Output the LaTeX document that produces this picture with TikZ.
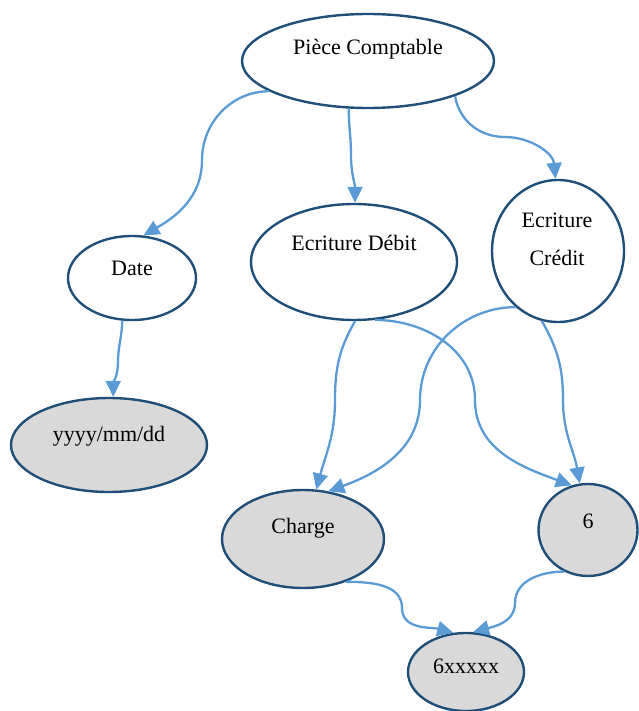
\documentclass[tikz,border=0pt]{standalone}
\usepackage{fontspec}
\setmainfont{Liberation Serif}
\usetikzlibrary{shapes.geometric,arrows.meta}
\definecolor{edge}{HTML}{1F4E79}
\definecolor{conn}{HTML}{5B9BD5}
\definecolor{greyfill}{HTML}{D9D9D9}
\tikzset{
  ell/.style={ellipse,draw=edge,line width=2.4pt,inner sep=0pt},
  plain/.style={ell,fill=white},
  grey/.style={ell,fill=greyfill},
  lbl/.style={anchor=base,inner sep=0pt,font=\fontsize{22}{26}\selectfont},
  conn/.style={draw=conn,line width=2.3pt,-{Triangle[length=16pt,width=15pt]}},
}
\begin{document}
\begin{tikzpicture}[x=1pt,y=-1pt]
\useasboundingbox (0,0) rectangle (638,711);
% ellipses
\node[plain,minimum width=252pt,minimum height=94pt] (pc) at (368,61) {};
\node[plain,minimum width=128pt,minimum height=84pt] (date) at (132,278) {};
\node[plain,minimum width=206pt,minimum height=116pt] (ed) at (354,262) {};
\node[plain,minimum width=132pt,minimum height=142pt] (ec) at (558,251) {};
\node[grey,minimum width=196pt,minimum height=94pt] (ymd) at (109,445) {};
\node[grey,minimum width=162pt,minimum height=98pt] (charge) at (303,539) {};
\node[grey,minimum width=99pt,minimum height=92pt] (six) at (588,530) {};
\node[grey,minimum width=116pt,minimum height=78pt] (x6) at (466,672) {};
% texts
\node[lbl] (pct) at (368,55) {Pièce Comptable};
\node[lbl] (datet) at (132,275) {Date};
\node[lbl] (edt) at (354,250) {Ecriture Débit};
\node[lbl] (ect1) at (557,228) {Ecriture};
\node[lbl] (ect2) at (557,265) {Crédit};
\node[lbl] (ymdt) at (109,441) {yyyy/mm/dd};
\node[lbl] (charget) at (303,533) {Charge};
\node[lbl] (sixt) at (588,528) {6};
\node[lbl] (x6t) at (466,673) {6xxxxx};
% connectors
\draw[conn] (pc.197) to[out=180,in=90] (202,160) to[out=-90,in=30] (date.75);
\draw[conn] (pc.-112) to[out=-90,in=90] (351,155) to[out=-90,in=90] (ed.89);
\draw[conn] (pc.-22) to[out=-80,in=180] (505,137) to[out=0,in=95] (ec.92);
\draw[conn] (date.-103) to[out=-90,in=90] (118,362) to[out=-90,in=90] (ymd.85);
\draw[conn] (ed.-89) to[out=-120,in=90] (335,400) to[out=-90,in=75] (charge.75);
\draw[conn] (ed.-70) to[out=0,in=90] (475,400) to[out=-90,in=160] (six.110);
\draw[conn] (ec.233) to[out=180,in=90] (420,400) to[out=-90,in=20] (charge.62);
\draw[conn] (ec.-103) to[out=-60,in=90] (563,400) to[out=-90,in=100] (six.100);
\draw[conn] (charge.-45) to[out=0,in=90] (402,608) to[out=-90,in=165] (x6.108);
\draw[conn] (six.240) to[out=180,in=90] (515,603) to[out=-90,in=15] (x6.80);
\end{tikzpicture}
\end{document}
